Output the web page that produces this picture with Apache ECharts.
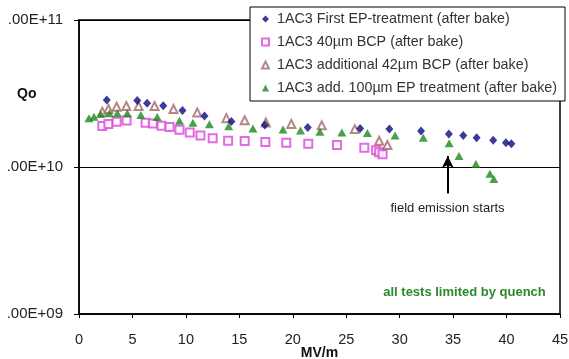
<!DOCTYPE html>
<html>
<head>
<meta charset="utf-8">
<script src="https://cdn.jsdelivr.net/npm/echarts@6/dist/echarts.min.js"></script>
<style>
html,body{margin:0;padding:0;background:#fff;}
#c{width:569px;height:359px;}
</style>
</head>
<body>
<div id="c"></div>
<script>
const seriesNames = [
  '1AC3 First EP-treatment (after bake)',
  '1AC3 40\u00b5m BCP (after bake)',
  '1AC3 additional 42\u00b5m BCP (after bake)',
  '1AC3 add. 100\u00b5m EP treatment (after bake)'
];
const blueX = [2.6, 5.45, 6.37, 7.88, 9.68, 11.74, 14.26, 17.39, 21.4, 26.3, 29.04, 32.0, 34.6, 35.95, 37.2, 38.75, 39.94, 40.45];
const blueQ = [2.86e10, 2.83e10, 2.71e10, 2.61e10, 2.42e10, 2.22e10, 2.04e10, 1.93e10, 1.86e10, 1.83e10, 1.81e10, 1.76e10, 1.68e10, 1.64e10, 1.58e10, 1.52e10, 1.46e10, 1.44e10];
const pinkX = [2.18, 2.75, 3.52, 4.45, 6.23, 6.91, 7.72, 8.47, 9.40, 10.36, 11.36, 12.51, 13.95, 15.5, 17.43, 19.39, 21.45, 24.13, 26.69, 27.8, 28.08, 28.4];
const pinkQ = [1.90e10, 1.96e10, 2.03e10, 2.07e10, 2.00e10, 1.98e10, 1.91e10, 1.87e10, 1.79e10, 1.72e10, 1.64e10, 1.57e10, 1.51e10, 1.50e10, 1.48e10, 1.46e10, 1.44e10, 1.41e10, 1.35e10, 1.30e10, 1.26e10, 1.22e10];
const brownX = [2.18, 2.75, 3.52, 4.43, 5.57, 7.07, 8.84, 11.06, 13.79, 15.5, 17.48, 19.86, 22.71, 25.8, 28.08, 28.85];
const brownQ = [2.38e10, 2.48e10, 2.57e10, 2.60e10, 2.60e10, 2.60e10, 2.48e10, 2.35e10, 2.15e10, 2.08e10, 2.01e10, 1.96e10, 1.92e10, 1.81e10, 1.51e10, 1.41e10];
const greenX = [0.93, 1.40, 2.03, 2.84, 3.59, 4.52, 5.79, 7.32, 9.40, 10.66, 12.20, 14.0, 16.27, 19.09, 20.72, 22.54, 24.59, 26.98, 29.57, 32.21, 34.63, 35.55, 37.13, 38.44, 38.81];
const greenQ = [2.15e10, 2.20e10, 2.29e10, 2.32e10, 2.32e10, 2.32e10, 2.26e10, 2.19e10, 2.06e10, 2.00e10, 1.95e10, 1.89e10, 1.83e10, 1.80e10, 1.77e10, 1.74e10, 1.72e10, 1.70e10, 1.64e10, 1.58e10, 1.45e10, 1.19e10, 1.05e10, 9.0e9, 8.3e9];
const xTicks = [0, 5, 10, 15, 20, 25, 30, 35, 40, 45];
const yTickValues = [1e9, 1e10, 1e11];
const yTickLabels = ['.00E+09', '.00E+10', '.00E+11'];
const arrowX = 34.5;
const arrowFromQ = 6.6e9;
const arrowToQ = 1.19e10;

const zip = (xs, ys) => xs.map((x, i) => [x, ys[i]]);
const FONT = '"Liberation Sans", Arial, sans-serif';

const chart = echarts.init(document.getElementById('c'), null, {renderer: 'canvas'});
chart.setOption({
  animation: false,
  backgroundColor: '#fff',
  grid: {left: 79, right: 9, top: 20, bottom: 45, show: true, borderColor: '#000', borderWidth: 1.5,
         backgroundColor: 'transparent', containLabel: false, outerBoundsMode: 'none'},
  xAxis: {
    type: 'value', min: xTicks[0], max: xTicks[xTicks.length - 1], interval: 5,
    name: 'MV/m', nameLocation: 'middle', nameGap: 32, nameMoveOverlap: false,
    nameTextStyle: {fontFamily: FONT, fontSize: 14, fontWeight: 'bold', color: '#111'},
    axisLine: {show: true, lineStyle: {color: '#000', width: 1.5}},
    axisTick: {show: true, length: 4, lineStyle: {color: '#000', width: 1}},
    axisLabel: {fontFamily: FONT, fontSize: 14.5, color: '#222', margin: 18},
    splitLine: {show: false}
  },
  yAxis: {
    type: 'log', logBase: 10, min: yTickValues[0], max: yTickValues[yTickValues.length - 1],
    axisLine: {show: true, lineStyle: {color: '#000', width: 1.5}},
    axisTick: {show: true, length: 5, lineStyle: {color: '#000', width: 1}},
    axisLabel: {fontFamily: FONT, fontSize: 15, color: '#222', margin: 16,
      formatter: v => {
        const i = yTickValues.findIndex(t => Math.abs(Math.log10(t) - Math.log10(v)) < 1e-6);
        return i >= 0 ? yTickLabels[i] : '';
      }},
    splitLine: {show: true, lineStyle: {color: '#000', width: 1}},
    minorTick: {show: false}
  },
  legend: {
    orient: 'vertical', left: 250, top: 7,
    padding: [4, 8, 5, 11],
    itemWidth: 7, itemHeight: 7, itemGap: 7,
    backgroundColor: '#fff', borderColor: '#000', borderWidth: 1,
    textStyle: {fontFamily: FONT, fontSize: 14.3, color: '#333', lineHeight: 16, padding: [0, 0, 0, 3]},
    data: seriesNames
  },
  series: [
    {name: seriesNames[0], type: 'scatter', symbol: 'diamond', symbolSize: [8, 9],
     itemStyle: {color: '#0a0a80'}, data: zip(blueX, blueQ), z: 3},
    {name: seriesNames[1], type: 'scatter', symbol: 'emptyRect', symbolSize: 8,
     itemStyle: {color: '#dc45dc', borderWidth: 1.2}, data: zip(pinkX, pinkQ), z: 2},
    {name: seriesNames[2], type: 'scatter', symbol: 'emptyTriangle', symbolSize: 8,
     itemStyle: {color: '#a26a6a', borderWidth: 1.1}, data: zip(brownX, brownQ), z: 2},
    {name: seriesNames[3], type: 'scatter', symbol: 'triangle', symbolSize: [9, 8],
     itemStyle: {color: '#1a8a1a'}, data: zip(greenX, greenQ), z: 4,
     markLine: {
       silent: true, symbol: ['none', 'arrow'], symbolSize: [9, 12],
       lineStyle: {color: '#000', width: 2, type: 'solid'},
       label: {show: false},
       data: [[{coord: [arrowX, arrowFromQ]}, {coord: [arrowX, arrowToQ]}]]
     }}
  ],
  graphic: [
    {type: 'text', left: 17, top: 87, style: {text: 'Qo', font: 'bold 14px ' + FONT, fill: '#111'}},
    {type: 'text', x: 447.5, y: 208, style: {text: 'field emission starts', font: '13px ' + FONT, fill: '#222', align: 'center', verticalAlign: 'middle'}},
    {type: 'text', x: 464.5, y: 292, style: {text: 'all tests limited by quench', font: 'bold 13px ' + FONT, fill: '#2a8a2a', align: 'center', verticalAlign: 'middle'}}
  ]
});
</script>
</body>
</html>
